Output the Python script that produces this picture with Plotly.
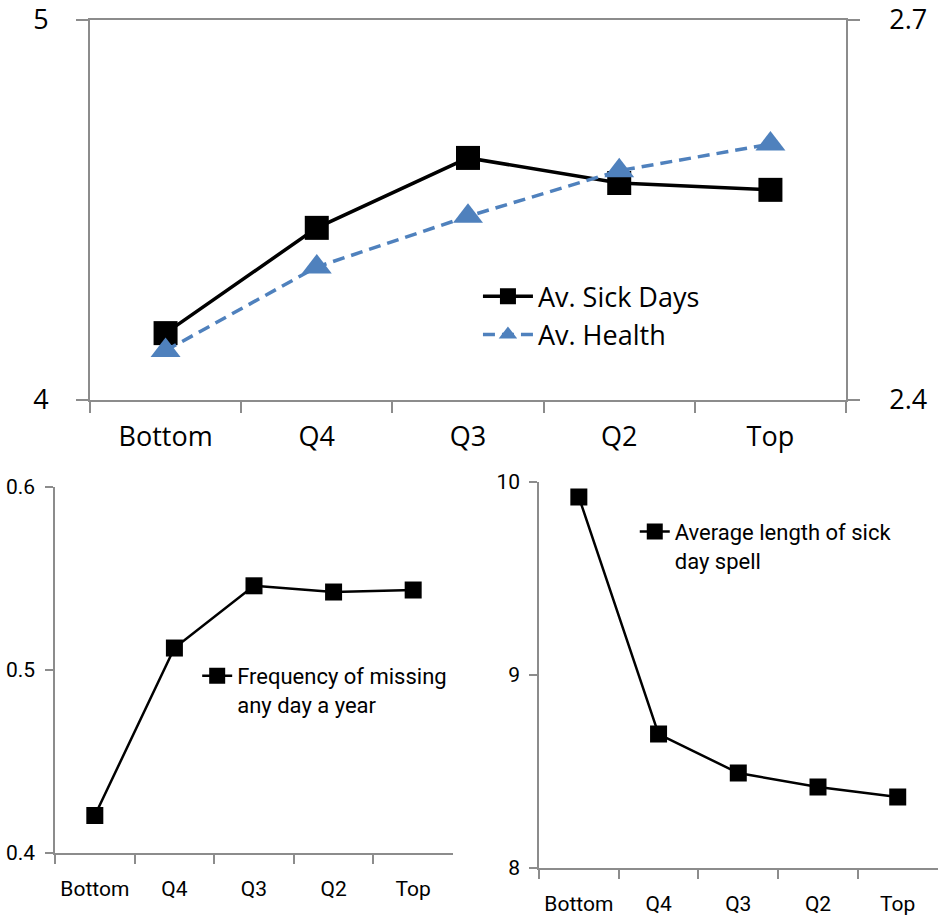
import plotly.graph_objects as go

categories = ["Bottom", "Q4", "Q3", "Q2", "Top"]
sick_days = [4.176, 4.453, 4.637, 4.571, 4.553]
health = [2.439, 2.505, 2.545, 2.581, 2.602]
freq_missing = [0.4205, 0.512, 0.546, 0.5426, 0.5437]
spell_length = [9.922, 8.694, 8.492, 8.420, 8.368]

top_ticks_left = [4, 5]
top_ticks_right = [2.4, 2.7]
bl_ticks = [0.4, 0.5, 0.6]
br_ticks = [8, 9, 10]

AX = "#8c8c8c"
BLUE = "#4f81bd"
TOPFONT = "Open Sans, Noto Sans, sans-serif"
NARROW = "Liberation Sans Narrow, Roboto, sans-serif"

fig = go.Figure()

fig.add_trace(go.Scatter(x=categories, y=sick_days, name="Av. Sick Days", mode="lines+markers",
                         line=dict(color="black", width=3.5),
                         marker=dict(symbol="square", size=24, color="black"),
                         xaxis="x", yaxis="y", legend="legend"))
fig.add_trace(go.Scatter(x=categories, y=health, name="Av. Health", mode="lines+markers",
                         line=dict(color=BLUE, width=3.5, dash="12px,7px"),
                         marker=dict(symbol="triangle-up", size=26, color=BLUE),
                         xaxis="x", yaxis="y2", legend="legend"))
fig.add_trace(go.Scatter(x=categories, y=freq_missing, name="Frequency of missing<br>any day a year",
                         mode="lines+markers", line=dict(color="black", width=2.5),
                         marker=dict(symbol="square", size=17, color="black"),
                         xaxis="x2", yaxis="y3", legend="legend2"))
fig.add_trace(go.Scatter(x=categories, y=spell_length, name="Average length of sick<br>day spell",
                         mode="lines+markers", line=dict(color="black", width=2.5),
                         marker=dict(symbol="square", size=17, color="black"),
                         xaxis="x3", yaxis="y4", legend="legend3"))


def xax(ticklen, standoff, font, **kw):
    return dict(type="category", range=[-0.5, 4.5], showline=True, linecolor=AX, linewidth=1.5,
                ticks="outside", tickson="boundaries", ticklen=ticklen, tickcolor=AX, tickwidth=1.5,
                showgrid=False, zeroline=False, automargin=False, ticklabelstandoff=standoff,
                tickangle=0, tickfont=font, **kw)


def yax(ticklen, standoff, font, **kw):
    return dict(showline=True, linecolor=AX, linewidth=1.5, ticks="outside", ticklen=ticklen,
                tickcolor=AX, tickwidth=1.5, showgrid=False, zeroline=False, automargin=False,
                ticklabelstandoff=standoff, tickfont=font, **kw)


topf = dict(family=TOPFONT, size=27, color="black")
botf = dict(family=NARROW, size=21, color="black")

fig.update_layout(
    width=939, height=920, margin=dict(l=0, r=0, t=0, b=0),
    paper_bgcolor="white", plot_bgcolor="white", showlegend=True,
    xaxis=xax(11, 12, topf, domain=[0.0958, 0.901], anchor="y", mirror=True),
    yaxis=yax(12, 22, topf, domain=[0.5652, 0.9783], anchor="x", range=[4, 5], tickvals=top_ticks_left),
    yaxis2=yax(12, 24, topf, overlaying="y", side="right", anchor="x", range=[2.4, 2.7],
               tickvals=top_ticks_right, tickformat=".1f"),
    xaxis2=xax(9, 16, botf, domain=[0.0586, 0.4824], anchor="y3"),
    yaxis3=yax(8, 6, botf, domain=[0.0728, 0.4707], anchor="x2", range=[0.4, 0.6],
               tickvals=bl_ticks, tickformat=".1f"),
    xaxis3=xax(9, 16, botf, domain=[0.574, 0.9985], anchor="y4"),
    yaxis4=yax(8, 5, botf, domain=[0.0565, 0.4761], anchor="x3", range=[8, 10], tickvals=br_ticks),
    legend=dict(x=0.509, y=0.704, xanchor="left", yanchor="top", bgcolor="rgba(0,0,0,0)",
                font=dict(family=TOPFONT, size=27, color="black"), itemwidth=50, tracegroupgap=0),
    legend2=dict(x=0.21, y=0.288, xanchor="left", yanchor="top", bgcolor="rgba(0,0,0,0)",
                 font=dict(family=NARROW, size=22, color="black"), itemwidth=30, valign="top"),
    legend3=dict(x=0.676, y=0.445, xanchor="left", yanchor="top", bgcolor="rgba(0,0,0,0)",
                 font=dict(family=NARROW, size=22, color="black"), itemwidth=30, valign="top"),
)

fig.write_html("out.html", post_script="document.body.style.margin='0';",
               config={"displayModeBar": False})
